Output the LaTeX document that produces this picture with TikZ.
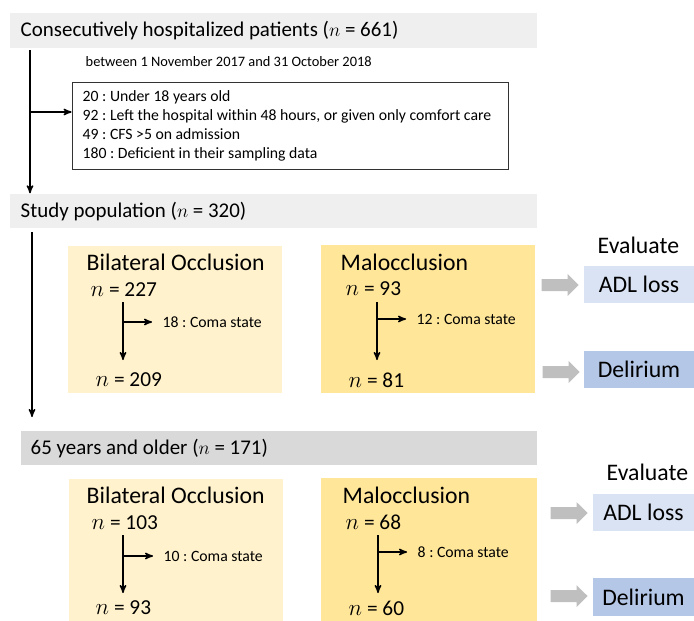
\documentclass[tikz,border=0pt]{standalone}
\usepackage{fontspec}
\setmainfont{Carlito}
\usepackage{tikz}
\usetikzlibrary{arrows}
\usetikzlibrary{shapes.arrows}
\usetikzlibrary{fit}
\definecolor{bandlight}{HTML}{EFEFEF}
\definecolor{banddark}{HTML}{D9D9D9}
\definecolor{bilatfill}{HTML}{FFF2CC}
\definecolor{malocfill}{HTML}{FFE699}
\definecolor{adlfill}{HTML}{DAE3F3}
\definecolor{delifill}{HTML}{B4C7E7}
\definecolor{arrowgray}{HTML}{BFBFBF}
\tikzset{
	band/.style={inner sep=0pt,fill=bandlight},
	bilat box/.style={inner sep=0pt,fill=bilatfill},
	maloc box/.style={inner sep=0pt,fill=malocfill},
	adl box/.style={inner sep=0pt,fill=adlfill},
	deli box/.style={inner sep=0pt,fill=delifill},
	title text/.style={anchor=west,inner sep=0pt,font=\fontsize{15.7}{18}\selectfont},
	group text/.style={anchor=west,inner sep=0pt,font=\fontsize{17.8}{20}\selectfont},
	count text/.style={anchor=west,inner sep=0pt,font=\fontsize{16}{19}\selectfont},
	small text/.style={anchor=west,inner sep=0pt,font=\fontsize{11.8}{14}\selectfont},
	excl box/.style={draw=black!80,line width=0.7pt,inner sep=0pt},
	excl text/.style={anchor=west,inner sep=0pt,align=left,font=\fontsize{11.8}{14.3}\selectfont},
	eval arrow/.style={single arrow,fill=arrowgray,draw=none,inner xsep=0pt,inner ysep=3.95pt,
		minimum height=27.75pt,single arrow head extend=3.6pt}
}

\begin{document}
\frenchspacing
\begin{tikzpicture}[x=0.75pt,y=-0.75pt,>=stealth',line width=1.1pt]
	\useasboundingbox (0,0) rectangle (694,621);
	% population bands
	\node [band,fit={(10,13) (537,48)}] (band1) {};
	\node [band,fit={(10,194) (537,228)}] (band2) {};
	\node [band,fill=banddark,fit={(21,431) (537,465)}] (band3) {};
	\node [title text] (all) at (20,31) {Consecutively hospitalized patients ($n$ = 661)};
	\node [title text] (study) at (20,212) {Study population ($n$ = 320)};
	\node [title text] (older) at (30,449) {65 years and older ($n$ = 171)};
	% exclusions
	\node [small text,font=\fontsize{10.8}{13}\selectfont] (period) at (85,62) {between 1 November 2017 and 31 October 2018};
	\node [excl box,fit={(72,82) (508,169)}] (excl) {};
	\node [excl text] (excltext) at (82,125.5) {20 : Under 18 years old\\
		92 : Left the hospital within 48 hours, or given only comfort care\\
		49 : CFS >5 on admission\\
		180 : Deficient in their sampling data};
	\coordinate (trunk1) at (30,50);
	\coordinate (split1) at (30,112);
	\coordinate (trunk2) at (32,232);
	\coordinate (trunk2end) at (32,417);
	\draw [->] (trunk1) -- (trunk1 |- band2.north);
	\draw [->] (split1) -- (split1 -| excl.west);
	\draw [->] (trunk2) -- (trunk2end);
	% all patients: groups
	\node [bilat box,fit={(68,246) (282,393)}] (bo1) {};
	\node [group text] (bo1title) at (86,262) {Bilateral Occlusion};
	\node [count text] (bo1in) at (90,290) {$n$ = 227};
	\node [count text] (bo1out) at (95,380) {$n$ = 209};
	\node [small text] (bo1coma) at (162,322) {18 : Coma state};
	\coordinate (bo1top) at (123,302);
	\coordinate (bo1bot) at (123,360);
	\coordinate (bo1split) at (123,322);
	\draw [->] (bo1top) -- (bo1bot);
	\draw [->] (bo1split) -- ([xshift=-7.5pt]bo1coma.west);
	\node [maloc box,fit={(321,245) (535,393)}] (mo1) {};
	\node [group text] (mo1title) at (340,262) {Malocclusion};
	\node [count text] (mo1in) at (345,289) {$n$ = 93};
	\node [count text] (mo1out) at (348,380) {$n$ = 81};
	\node [small text] (mo1coma) at (416,319) {12 : Coma state};
	\coordinate (mo1top) at (377,302);
	\coordinate (mo1bot) at (377,360);
	\coordinate (mo1split) at (377,319);
	\draw [->] (mo1top) -- (mo1bot);
	\draw [->] (mo1split) -- ([xshift=-7.5pt]mo1coma.west);
	% all patients: outcomes
	\node [group text] (eval1) at (597,245) {Evaluate};
	\node [adl box,fit={(584,266) (694,303)}] (adl1) {};
	\node [deli box,fit={(584,351) (694,388)}] (deli1) {};
	\node [group text,anchor=center] (adl1text) at (adl1.center) {ADL loss};
	\node [group text,anchor=center] (deli1text) at (deli1.center) {Delirium};
	\node [eval arrow] (arr1a) at (557,285) {};
	\node [eval arrow] (arr1b) at (558,372) {};
	% 65 and older: groups
	\node [bilat box,fit={(69,479) (283,621)}] (bo2) {};
	\node [group text] (bo2title) at (86,495) {Bilateral Occlusion};
	\node [count text] (bo2in) at (91,523) {$n$ = 103};
	\node [count text] (bo2out) at (95,608) {$n$ = 93};
	\node [small text] (bo2coma) at (163,556) {10 : Coma state};
	\coordinate (bo2top) at (123,535);
	\coordinate (bo2bot) at (123,593);
	\coordinate (bo2split) at (123,556);
	\draw [->] (bo2top) -- (bo2bot);
	\draw [->] (bo2split) -- ([xshift=-7.5pt]bo2coma.west);
	\node [maloc box,fit={(321,478) (537,621)}] (mo2) {};
	\node [group text] (mo2title) at (342,495) {Malocclusion};
	\node [count text] (mo2in) at (345,522) {$n$ = 68};
	\node [count text] (mo2out) at (348,608) {$n$ = 60};
	\node [small text] (mo2coma) at (417,552) {8 : Coma state};
	\coordinate (mo2top) at (378,535);
	\coordinate (mo2bot) at (378,593);
	\coordinate (mo2split) at (378,552);
	\draw [->] (mo2top) -- (mo2bot);
	\draw [->] (mo2split) -- ([xshift=-7.5pt]mo2coma.west);
	% 65 and older: outcomes
	\node [group text] (eval2) at (606,472) {Evaluate};
	\node [adl box,fit={(593,494) (694,531)}] (adl2) {};
	\node [deli box,fit={(593,578) (694,616)}] (deli2) {};
	\node [group text,anchor=center] (adl2text) at (adl2.center) {ADL loss};
	\node [group text,anchor=center] (deli2text) at (deli2.center) {Delirium};
	\node [eval arrow] (arr2a) at (566,513) {};
	\node [eval arrow] (arr2b) at (566,596) {};
\end{tikzpicture}
\end{document}
